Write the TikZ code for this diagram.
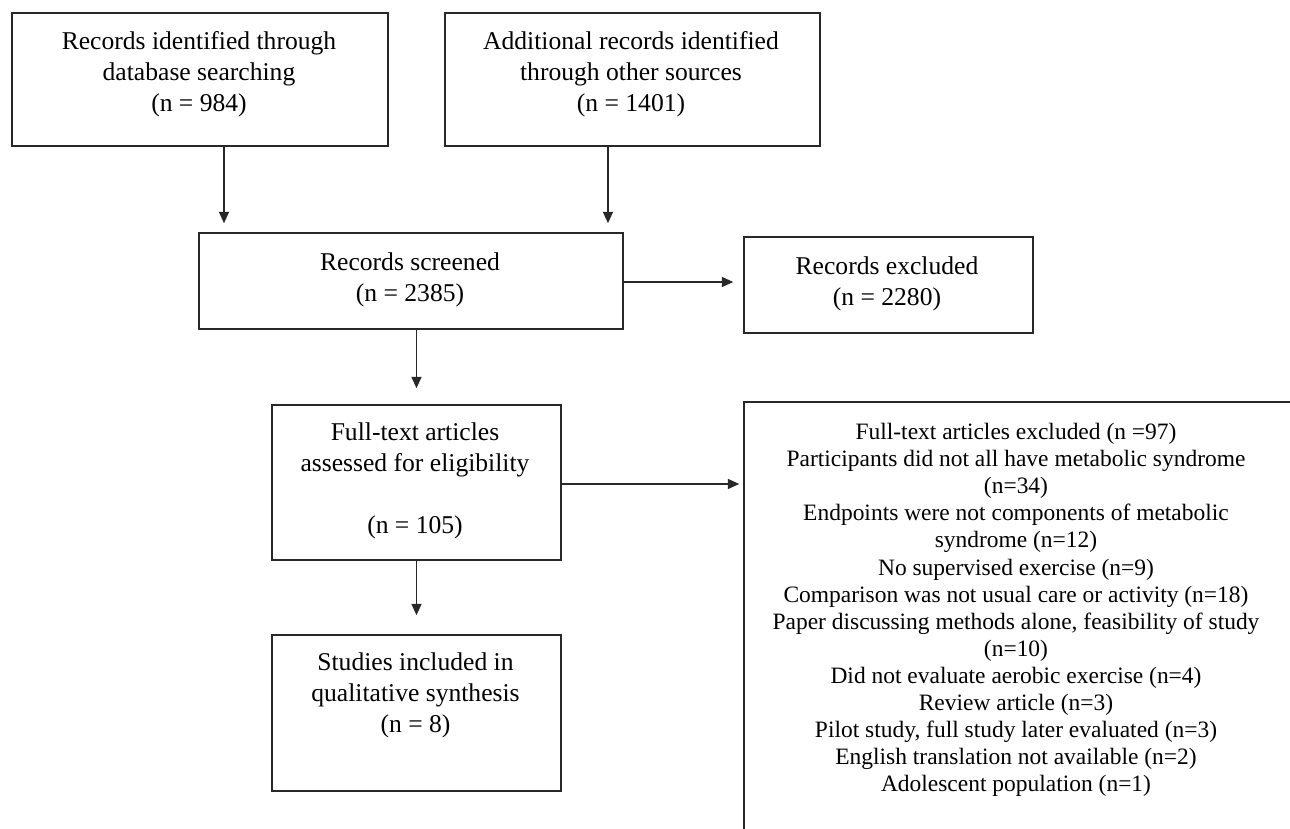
\documentclass[tikz,border=0pt]{standalone}
\usepackage{fontspec}
\setmainfont{Liberation Serif}
\usetikzlibrary{arrows.meta}
\definecolor{linec}{RGB}{40,40,40}
\begin{document}
\begin{tikzpicture}[x=0.75pt,y=-0.75pt,
  box/.style={draw=linec, line width=1.2pt, inner sep=0pt},
  txt/.style={align=center, inner sep=0pt, text=black, font=\fontsize{19.2}{23.25}\selectfont},
  smalltxt/.style={align=center, inner sep=0pt, text=black, font=\fontsize{17.6}{20.3}\selectfont},
  arr/.style={draw=linec, line width=1.1pt, -{Triangle[length=8.5pt,width=7.5pt]}}]
\useasboundingbox (0,0) rectangle (1290,829);
\fill[white] (0,0) rectangle (1290,829);
\clip (0,0) rectangle (1290,829);

% boxes
\node[box, minimum width=282pt, minimum height=99.75pt] (b1) at (200,79.5) {};
\node[box, minimum width=281.25pt, minimum height=99.75pt] (b2) at (632.5,79.5) {};
\node[box, minimum width=318pt, minimum height=72pt] (scr) at (411,281) {};
\node[box, minimum width=216.75pt, minimum height=72pt] (exc) at (888.5,285) {};
\node[box, minimum width=216.75pt, minimum height=116.25pt] (ft) at (416.5,482.5) {};
\node[box, minimum width=216.75pt, minimum height=117pt] (st) at (416.5,713) {};
\node[box, minimum width=432pt, minimum height=336pt] (rb) at (1032,626) {};

% texts
\node[txt] (b1t) at (199,74) {Records identified through\\database searching\\(n = 984)};
\node[txt] (b2t) at (631,74) {Additional records identified\\through other sources\\(n = 1401)};
\node[txt] (scrt) at (410,280) {Records screened\\(n = 2385)};
\node[txt] (exct) at (887,284) {Records excluded\\(n = 2280)};
\node[txt] (ftt) at (415,480.5) {Full-text articles\\assessed for eligibility\\[23.25pt](n = 105)};
\node[txt] (stt) at (415.5,695) {Studies included in\\qualitative synthesis\\(n = 8)};
\node[smalltxt] (rbt) at (1016,610) {Full-text articles excluded (n =97)\\
Participants did not all have metabolic syndrome\\
(n=34)\\
Endpoints were not components of metabolic\\
syndrome (n=12)\\
No supervised exercise (n=9)\\
Comparison was not usual care or activity (n=18)\\
Paper discussing methods alone, feasibility of study\\
(n=10)\\
Did not evaluate aerobic exercise (n=4)\\
Review article (n=3)\\
Pilot study, full study later evaluated (n=3)\\
English translation not available (n=2)\\
Adolescent population (n=1)};

% connectors
\draw[arr, shorten >=6.75pt] ([xshift=18pt]b1.south) -- ([xshift=18pt]b1.south |- scr.north);
\draw[arr, shorten >=6.75pt] ([xshift=-18.4pt]b2.south) -- ([xshift=-18.4pt]b2.south |- scr.north);
\draw[arr, shorten >=7.5pt] ([yshift=-0.75pt]scr.east) -- ([yshift=-0.75pt]scr.east -| exc.west);
\draw[arr, shorten >=12pt] (scr.south -| ft.north) -- (ft.north);
\draw[arr, shorten >=3pt] ([yshift=-1.1pt]ft.east) -- ([yshift=-1.1pt]ft.east -| rb.west);
\draw[arr, shorten >=14.25pt] (ft.south) -- (st.north);
\end{tikzpicture}
\end{document}
